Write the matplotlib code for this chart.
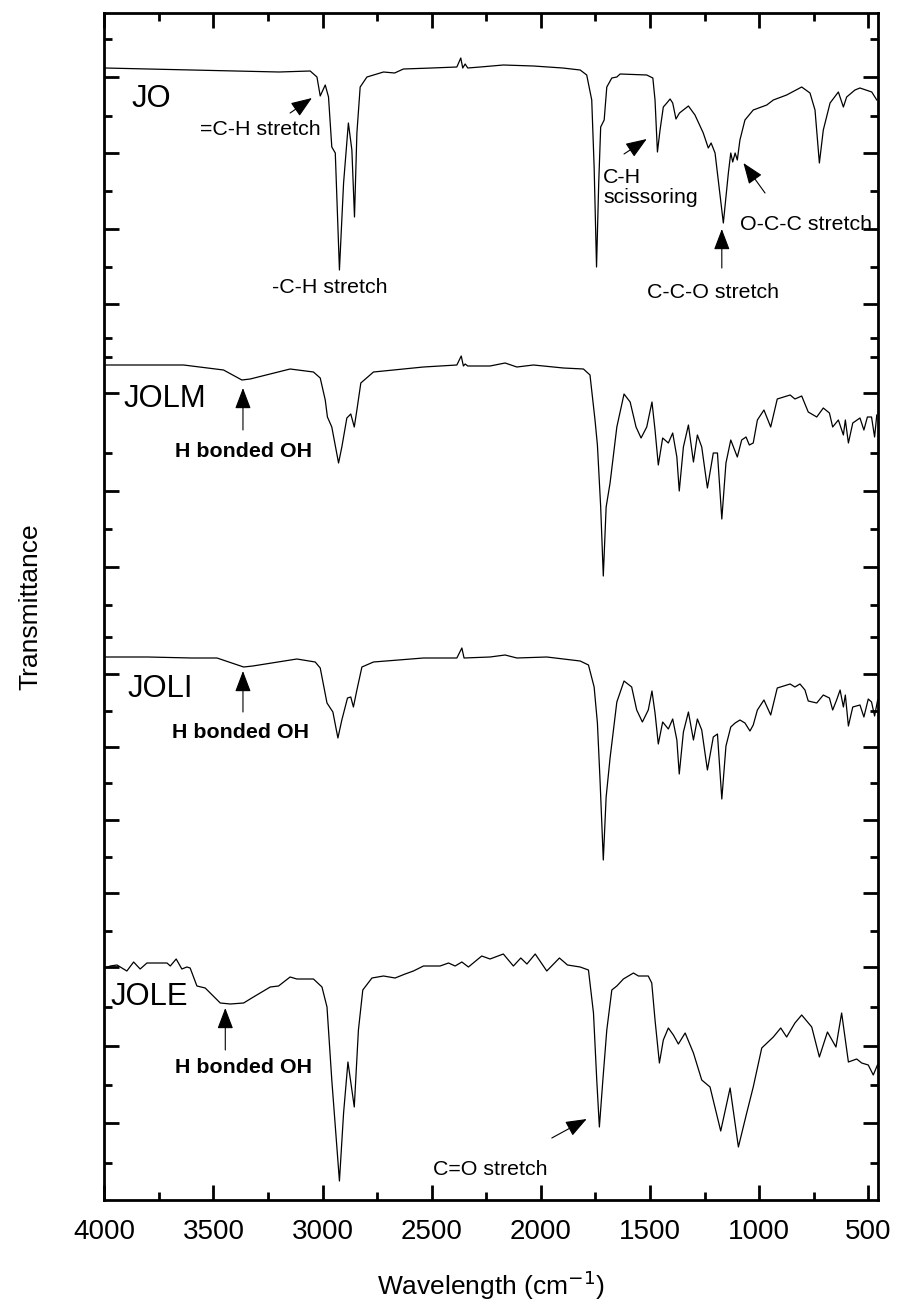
import matplotlib
matplotlib.use("Agg")
import matplotlib.pyplot as plt
from matplotlib.ticker import FixedLocator

plt.rcParams['font.family'] = ['Liberation Sans', 'DejaVu Sans']

# ---------------- data (wavenumber cm-1, transmittance a.u., stacked) ----------------
jo_wn = [3996, 3800, 3600, 3400, 3200, 3057, 3026, 3011, 2988, 2973, 2958, 2942, 2923, 2904,
         2882, 2866, 2854, 2843, 2828, 2797, 2721, 2670, 2660, 2630, 2500, 2385, 2367, 2358,
         2347, 2335, 2278, 2172, 2034, 1900, 1820, 1790, 1767, 1756, 1745, 1735, 1726, 1710,
         1698, 1675, 1652, 1637, 1515, 1487, 1477, 1466, 1454, 1439, 1423, 1408, 1396, 1381,
         1365, 1324, 1294, 1256, 1233, 1220, 1202, 1164, 1141, 1130, 1121, 1110, 1100, 1088,
         1065, 1027, 965, 935, 874, 805, 767, 744, 724, 706, 675, 637, 614, 599, 561, 538,
         484, 461]
jo_t = [113.2, 113.1, 113.0, 112.9, 112.8, 112.9, 112.3, 110.4, 111.5, 110.3, 105.3, 104.7,
        93.0, 101.7, 107.7, 105.0, 98.3, 106.7, 111.3, 112.3, 112.8, 112.7, 112.8, 113.1,
        113.2, 113.3, 114.2, 113.2, 113.6, 113.2, 113.3, 113.5, 113.4, 113.2, 113.0, 112.5,
        110.0, 103.3, 93.3, 101.7, 107.3, 108.0, 111.3, 112.2, 112.3, 112.6, 112.5, 112.2,
        110.0, 104.8, 107.0, 109.3, 109.7, 110.1, 109.7, 108.1, 108.7, 109.4, 108.5, 106.7,
        105.2, 105.7, 104.7, 97.7, 102.7, 104.7, 103.8, 104.7, 104.0, 106.0, 108.0, 109.0,
        109.5, 110.0, 110.5, 111.3, 110.7, 109.0, 103.7, 107.0, 109.7, 110.8, 109.3, 110.3,
        111.0, 111.2, 110.8, 110.0]

jolm_wn = [3996, 3800, 3637, 3454, 3370, 3332, 3149, 3042, 3011, 2988, 2978, 2958, 2927, 2912,
           2889, 2871, 2855, 2843, 2825, 2767, 2538, 2385, 2365, 2355, 2347, 2335, 2233, 2164,
           2110, 2034, 1897, 1805, 1775, 1752, 1741, 1726, 1714, 1701, 1683, 1652, 1619, 1591,
           1564, 1541, 1515, 1491, 1477, 1462, 1442, 1416, 1396, 1377, 1366, 1347, 1324, 1301,
           1283, 1263, 1237, 1210, 1191, 1171, 1152, 1130, 1100, 1080, 1060, 1045, 1027, 1008,
           978, 947, 917, 858, 836, 805, 775, 736, 706, 678, 663, 637, 614, 605, 591, 571, 538,
           520, 504, 485, 471, 461]
jolm_t = [83.5, 83.5, 83.5, 83.0, 82.0, 82.1, 83.1, 82.8, 82.2, 80.0, 78.3, 77.3, 73.7, 75.3,
          78.2, 78.6, 77.3, 79.0, 81.7, 82.8, 83.3, 83.5, 84.4, 83.4, 83.6, 83.4, 83.4, 83.7,
          83.3, 83.5, 83.2, 83.1, 82.5, 78.0, 75.5, 69.3, 62.4, 69.3, 71.7, 77.3, 80.6, 79.8,
          77.3, 76.2, 77.3, 79.8, 77.0, 73.5, 76.2, 75.7, 76.7, 74.3, 70.9, 75.3, 77.5, 73.8,
          76.5, 75.3, 71.2, 74.7, 74.7, 68.1, 73.7, 76.0, 74.3, 76.0, 76.3, 75.5, 75.7, 78.0,
          79.0, 77.3, 80.1, 80.5, 80.1, 80.4, 78.8, 78.3, 79.2, 78.7, 77.3, 78.0, 76.5, 78.0,
          75.7, 77.7, 78.2, 77.0, 78.3, 78.3, 76.3, 78.5]

joli_wn = [3996, 3800, 3600, 3484, 3362, 3320, 3118, 3034, 3011, 2980, 2953, 2930, 2912, 2886,
           2871, 2859, 2843, 2820, 2767, 2538, 2385, 2362, 2352, 2233, 2164, 2110, 1973, 1820,
           1782, 1756, 1741, 1729, 1714, 1701, 1683, 1652, 1619, 1584, 1561, 1535, 1508, 1491,
           1477, 1462, 1442, 1416, 1396, 1377, 1366, 1347, 1324, 1301, 1283, 1263, 1237, 1210,
           1191, 1171, 1152, 1130, 1110, 1088, 1065, 1042, 1027, 1008, 978, 947, 917, 858, 836,
           813, 790, 775, 736, 706, 678, 663, 645, 629, 614, 605, 591, 571, 538, 520, 500, 485,
           471, 457]
joli_t = [54.3, 54.3, 54.2, 54.2, 53.3, 53.4, 54.1, 53.8, 53.2, 49.7, 48.8, 46.2, 48.0, 50.2,
          50.3, 49.3, 51.0, 53.3, 53.8, 54.2, 54.2, 55.2, 54.2, 54.3, 54.5, 54.2, 54.3, 53.9,
          53.5, 51.3, 47.7, 42.0, 34.0, 40.3, 44.2, 49.8, 51.9, 51.3, 49.0, 47.8, 49.0, 50.9,
          48.7, 45.6, 47.8, 47.1, 48.1, 46.0, 42.6, 46.8, 48.8, 46.0, 48.1, 47.0, 43.0, 46.3,
          46.6, 40.1, 45.4, 47.3, 47.7, 48.0, 47.7, 46.9, 47.5, 49.0, 50.0, 48.5, 51.2, 51.6,
          51.3, 51.6, 51.0, 49.9, 49.7, 50.5, 50.2, 49.0, 50.0, 51.0, 49.3, 50.5, 47.4, 49.3,
          49.5, 48.3, 50.1, 49.8, 48.4, 50.0]

jole_wn = [3996, 3973, 3942, 3897, 3866, 3836, 3805, 3713, 3698, 3671, 3645, 3622, 3607, 3576,
           3538, 3469, 3423, 3362, 3317, 3240, 3202, 3149, 3118, 3042, 3003, 2980, 2958, 2923,
           2904, 2884, 2855, 2836, 2816, 2774, 2721, 2668, 2622, 2584, 2538, 2462, 2423, 2393,
           2362, 2332, 2271, 2233, 2172, 2126, 2092, 2064, 2026, 1973, 1915, 1878, 1820, 1782,
           1759, 1744, 1732, 1716, 1698, 1675, 1652, 1622, 1576, 1553, 1508, 1492, 1477, 1457,
           1439, 1416, 1393, 1370, 1339, 1301, 1263, 1225, 1176, 1133, 1095, 1057, 1027, 988,
           935, 901, 874, 836, 805, 759, 724, 687, 648, 622, 591, 553, 530, 500, 477, 458]
jole_t = [23.2, 23.4, 23.5, 22.9, 23.8, 23.1, 23.7, 23.7, 23.4, 24.1, 23.1, 23.3, 23.2, 21.4,
          21.2, 19.7, 19.6, 19.7, 20.3, 21.3, 21.4, 22.3, 22.1, 22.1, 21.3, 19.3, 12.0, 1.9,
          8.7, 13.8, 9.3, 17.0, 21.0, 22.2, 22.4, 22.2, 22.6, 22.9, 23.4, 23.4, 23.7, 23.4,
          23.8, 23.3, 24.4, 24.1, 24.6, 23.4, 24.2, 23.6, 24.6, 22.9, 24.2, 23.5, 23.3, 23.0,
          18.7, 12.0, 7.3, 12.0, 17.0, 21.0, 21.4, 22.1, 22.7, 22.4, 22.4, 21.7, 18.0, 13.7,
          16.0, 17.2, 16.5, 15.6, 16.7, 14.7, 12.0, 11.3, 6.9, 11.2, 5.3, 8.7, 11.3, 15.2,
          16.3, 17.2, 16.3, 17.7, 18.5, 17.3, 14.3, 16.8, 15.3, 18.7, 13.8, 14.1, 13.7, 13.5,
          12.5, 13.5]

sample_names = ['JO', 'JOLM', 'JOLI', 'JOLE']
x_ticks = [4000, 3500, 3000, 2500, 2000, 1500, 1000, 500]
y_major = [112.3, 104.7, 97.1, 89.6, 80.7, 70.9, 63.3, 52.6, 45.3, 38.0, 30.7, 23.3, 15.4, 7.7]
y_minor = [116.1, 108.4, 100.9, 93.3, 86.2, 84.3, 74.7, 67.1, 59.5, 56.3, 48.9, 41.7, 34.3,
           26.9, 19.3, 11.5, 3.7]

# ---------------- figure ----------------
W, H = 899, 1307
fig = plt.figure(figsize=(W / 100, H / 100), dpi=100)
L, R, T, B = 103.5, 878.3, 12.7, 1200
ax = fig.add_axes([L / W, 1 - B / H, (R - L) / W, (B - T) / H])

lw = 0.9
for wn, t in [(jo_wn, jo_t), (jolm_wn, jolm_t), (joli_wn, joli_t), (jole_wn, jole_t)]:
    ax.plot(wn, t, color='black', lw=lw)

ax.set_xlim(4004, 454)
ax.set_ylim(0, 118.73)
ax.set_xticks(x_ticks)
ax.set_xticklabels([str(v) for v in x_ticks])
ax.xaxis.set_minor_locator(FixedLocator([3750, 3250, 2750, 2250, 1750, 1250, 750]))
ax.yaxis.set_major_locator(FixedLocator(y_major))
ax.yaxis.set_minor_locator(FixedLocator(y_minor))
ax.tick_params(axis='both', which='both', direction='in', top=True, right=True, width=2.0)
ax.tick_params(axis='both', which='major', length=11)
ax.tick_params(axis='both', which='minor', length=6)
ax.tick_params(axis='x', labelsize=20, pad=14)
ax.tick_params(axis='y', labelleft=False)
for s in ax.spines.values():
    s.set_linewidth(2.0)

ax.set_xlabel('Wavelength (cm$^{-1}$)', fontsize=19)
ax.xaxis.set_label_coords(0.5, -(1295 - B) / (B - T))
ax.xaxis.label.set_va('baseline')
ax.set_ylabel('Transmittance', fontsize=19)
ax.yaxis.set_label_coords(-(L - 30) / (R - L), 0.5)
ax.yaxis.label.set_va('center')

# sample labels
fs_big = 22.3
for name, (x, y) in zip(sample_names, [(3874, 109.3), (3912, 79.3), (3896, 50.3), (3970, 19.5)]):
    ax.text(x, y, name, fontsize=fs_big, ha='left', va='baseline')

fs = 15.4
ax.text(3561, 106.5, '=C-H stretch', fontsize=fs, ha='left', va='baseline')
ax.text(3232, 90.7, '-C-H stretch', fontsize=fs, ha='left', va='baseline')
ax.text(1715, 103.2, 'C-H\nscissoring', fontsize=fs, ha='left', va='top', linespacing=1.05)
ax.text(1515, 90.2, 'C-C-O stretch', fontsize=fs, ha='left', va='baseline')
ax.text(1088, 97.0, 'O-C-C stretch', fontsize=fs, ha='left', va='baseline')
ax.text(3675, 74.3, 'H bonded OH', fontsize=fs, ha='left', va='baseline', fontweight='bold')
ax.text(3690, 46.2, 'H bonded OH', fontsize=fs, ha='left', va='baseline', fontweight='bold')
ax.text(3675, 12.7, 'H bonded OH', fontsize=fs, ha='left', va='baseline', fontweight='bold')
ax.text(2492, 2.5, 'C=O stretch', fontsize=fs, ha='left', va='baseline')

arrows = [((3149, 108.7), (3049, 110.2)),
          ((1619, 104.6), (1515, 106.1)),
          ((1171, 93.2), (1171, 97.1)),
          ((973, 100.7), (1072, 103.7)),
          ((3365, 77.0), (3365, 81.2)),
          ((3365, 48.8), (3365, 52.9)),
          ((3446, 15.0), (3446, 19.2)),
          ((1950, 6.2), (1790, 8.1))]
for tail, tip in arrows:
    ax.annotate('', xy=tip, xytext=tail,
                arrowprops=dict(arrowstyle='-|>,head_length=1.0,head_width=0.38',
                                mutation_scale=13, lw=0.8, color='black',
                                shrinkA=0, shrinkB=0))

fig.savefig('out.png', dpi=100)
